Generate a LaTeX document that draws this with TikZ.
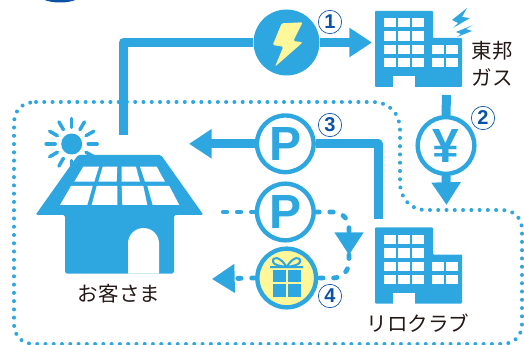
\documentclass[tikz,border=0pt]{standalone}
\usepackage{fontspec}
\setmainfont{Liberation Sans}
\newfontfamily\cjk{Noto Sans CJK JP}
\usetikzlibrary{arrows.meta}
\definecolor{skyblue}{RGB}{46,167,224}
\definecolor{deepblue}{RGB}{11,82,166}
\definecolor{paleyellow}{RGB}{255,247,153}
\definecolor{inkbrown}{RGB}{35,24,21}
\tikzset{
  flow/.style={draw=skyblue,line width=6.75pt,line join=round},
  dashflow/.style={draw=skyblue,line width=3.6pt,line cap=round,dash pattern=on 2.6pt off 7.9pt},
  bigtip/.style={-{Triangle[length=17pt,width=21pt,fill=skyblue]}},
  ring/.style={circle,draw=skyblue,fill=white,line width=3.3pt,minimum size=42.5pt,inner sep=0pt,text=skyblue,font=\fontsize{36}{36}\selectfont\bfseries},
  numtag/.style={circle,draw=deepblue,fill=white,line width=0.5pt,minimum size=17.5pt,inner sep=0pt,text=deepblue,font=\fontsize{15}{15}\selectfont\bfseries},
  caption/.style={text=inkbrown,font=\cjk\fontsize{15.4}{20}\selectfont,align=center},
  office/.pic={
    \begin{scope}[yscale=-1]
    \fill[skyblue,rounded corners=0.6pt] (0,0) -- (58,0) -- (58,27) -- (87,27) -- (87,76) -- (0,76) -- cycle;
    \foreach \wy in {7,20.5,34,47}
      \foreach \wx in {9.3,23.3,37.3}
        \fill[white] (\wx,\wy) rectangle +(11.3,9.5);
    \foreach \wy in {34,47}
      \foreach \wx in {57.3,71.3}
        \fill[white] (\wx,\wy) rectangle +(11.3,9.5);
    \fill[white] (18,65) rectangle (39.7,76);
    \end{scope}
  }
}
\begin{document}
\begin{tikzpicture}[x=0.75pt,y=0.75pt,yscale=-1]
\useasboundingbox (0,0) rectangle (524,345);

%top edge
\fill[deepblue] (60,-8) ellipse (24 and 10.5);

%dotted area
\draw[skyblue,line width=3pt,line cap=round,dash pattern=on 0pt off 6.2pt]
  (36,102) -- (372,102) .. controls (390,102) and (400,114) .. (400,130) -- (400,182)
  .. controls (400,198) and (410,210) .. (426,210) -- (502,210)
  .. controls (514,210) and (522,218) .. (522,230) -- (522,324)
  .. controls (522,336) and (514,344) .. (502,344) -- (34,344)
  .. controls (22,344) and (14,336) .. (14,324) -- (14,124)
  .. controls (14,110) and (22,102) .. (36,102);

%free ends
\coordinate (houseTop) at (123.5,135);
\coordinate (tipGas) at (372,42.5);
\coordinate (gasFoot) at (446.5,95);
\coordinate (tipYen) at (446.5,205);
\coordinate (tipPoint) at (189,143.8);
\coordinate (reloFoot) at (378,219);
\coordinate (dashEnd) at (220,212);
\coordinate (tipDown) at (349,255);
\coordinate (tipGift) at (212,279);

%circles
\node[circle,fill=skyblue,minimum size=49.5pt,inner sep=0pt] (bolt) at (286.5,42.5) {};
\node[ring] (yen) at (446,145.5) {¥};
\node[ring] (pointA) at (285.3,143.8) {P};
\node[ring] (pointB) at (285.3,212) {P};
\node[ring,fill=paleyellow,minimum size=44pt] (gift) at (286.7,278) {};

%connectors
\draw[flow] (houseTop) |- (bolt.west);
\draw[flow,bigtip] (bolt.east) -- (tipGas);
\draw[flow] (gasFoot) -- (yen.north);
\draw[flow,bigtip] (yen.south) -- (tipYen);
\draw[flow,bigtip] (pointA.west) -- (tipPoint);
\draw[flow] (pointA.east) -| (reloFoot);
\draw[dashflow] (pointB.west) -- (dashEnd);
\draw[dashflow,bigtip,rounded corners=12pt] (pointB.east) -| (tipDown);
\draw[dashflow,rounded corners=12pt] (tipDown) |- (gift.east);
\draw[dashflow,bigtip] (gift.west) -- (tipGift);

%lightning
\fill[paleyellow,rounded corners=1pt] (281.7,23.3) -- (302.7,22.3) -- (293.3,41) -- (302.7,42.3) -- (275,66.7) -- (283.3,46.7) -- (272.7,45) -- cycle;

%gift box
\fill[skyblue] (272.7,270) rectangle (300.7,296.7);
\draw[paleyellow,line width=1.5pt] (286.7,270) -- (286.7,296.7) (272.7,283.3) -- (300.7,283.3);
\draw[skyblue,line width=1.5pt] (286.7,267) .. controls (280,256) and (272,256) .. (273,262) .. controls (274,265) and (280,266) .. (286.7,267)
  .. controls (293,256) and (301,256) .. (300,262) .. controls (299,265) and (293,266) .. (286.7,267)
  (270,267) -- (286.7,267) -- (303,267);

%buildings
\pic at (375,11) {office};
\pic at (375,227.5) {office};
\fill[skyblue] (467,8) -- (452,20) -- (458,23) -- (453,28) -- (470,18) -- (462,17) -- cycle;
\fill[skyblue] (473,25) -- (456,32) -- (461,34) -- (457,37) -- (472,31) -- (466,29) -- cycle;

%sun
\fill[skyblue] (71.7,144) circle (10.5);
\foreach \ang in {0,30,...,330}
  \draw[skyblue,line width=2.6pt,line cap=round] (71.7,144) ++(\ang:16.5) -- ++(\ang:9);

%house
\fill[skyblue,rounded corners=1.2pt] (78,155) -- (161,155) -- (203.5,215) -- (174,215) -- (174,273.5) -- (65,273.5) -- (65,215) -- (35.5,215) -- cycle;
\foreach \ya/\yb/\xa/\xb/\xc/\xd in {
  166.7/181.7/83.3/99/94.3/74.3, 166.7/181.7/102.7/117.3/116.7/98.3,
  166.7/181.7/121.7/136/140/121.7, 166.7/181.7/140/156.7/165/145,
  186/205/71/92.7/87.3/60, 186/205/96.7/117.3/117.3/91.7,
  186/205/121.7/143.3/147.3/122.3, 186/205/147.3/169.3/179.3/152.7}
  \fill[white] (\xa,\ya) -- (\xb,\ya) -- (\xc,\yb) -- (\xd,\yb) -- cycle;
\fill[white] (128,273.5) -- (128,243.5) arc[start angle=180,end angle=360,radius=15.5] -- (159,273.5) -- cycle;

%numbers
\node[numtag] (numA) at (330,22) {1};
\node[numtag] (numB) at (483,118) {2};
\node[numtag] (numC) at (330,125) {3};
\node[numtag] (numD) at (330,296) {4};

%labels
\node[caption] (gasLabel) at (492,63.5) {東邦\\ガス};
\node[caption] (homeLabel) at (119,294) {お客さま};
\node[caption] (reloLabel) at (418,323) {リロクラブ};
\end{tikzpicture}
\end{document}
